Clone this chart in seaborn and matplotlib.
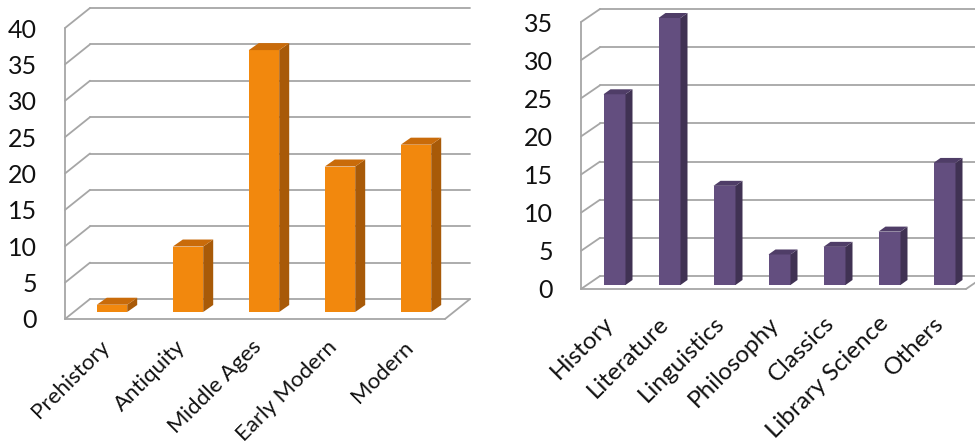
import matplotlib
matplotlib.use("Agg")
import matplotlib.pyplot as plt
import matplotlib.transforms as mtransforms
from matplotlib.patches import Polygon
from matplotlib.lines import Line2D
import seaborn as sns
import pandas as pd

# ---- data -------------------------------------------------------------
periods = ["Prehistory", "Antiquity", "Middle Ages", "Early Modern", "Modern"]
period_counts = [1, 9, 36, 20, 23]
period_ticks = [0, 5, 10, 15, 20, 25, 30, 35, 40]

fields = ["History", "Literature", "Linguistics", "Philosophy", "Classics",
          "Library Science", "Others"]
field_counts = [25, 35, 13, 4, 5, 7, 16]
field_ticks = [0, 5, 10, 15, 20, 25, 30, 35]

# ---- figure -----------------------------------------------------------
W, H, DPI = 975, 447, 100
sns.set_theme(style="white")
plt.rcParams["font.family"] = ["Lato", "DejaVu Sans"]
fig = plt.figure(figsize=(W / DPI, H / DPI), dpi=DPI)

GRID = "#a6a6a6"
TEXT = "#111111"


def px(x0, y0, x1, y1):
    """Axes rectangle from pixel box (top-left origin)."""
    return [x0 / W, 1 - y1 / H, (x1 - x0) / W, (y1 - y0) / H]


def shift(dx, dy):
    """Pixel shift in display orientation (dy positive = upwards)."""
    return mtransforms.ScaledTranslation(dx / DPI, dy / DPI, fig.dpi_scale_trans)


def pseudo3d(ax, cats, vals, ticks, front, side, top,
             wall, bar_shift, bar_depth, ymax, label_off, label_size):
    df = pd.DataFrame({"cat": cats, "val": vals})
    sns.barplot(data=df, x="cat", y="val", ax=ax, color=front,
                saturation=1, width=0.4, edgecolor="none", zorder=3)
    n = len(cats)
    ax.set_xlim(-0.5, n - 0.5)
    ax.set_ylim(0, ymax)
    for s in ax.spines.values():
        s.set_visible(False)
    ax.set_xlabel("")
    ax.set_ylabel("")
    ax.set_yticks(ticks)
    ax.tick_params(axis="y", length=0, pad=20, labelsize=18, labelcolor=TEXT)

    # category labels, rotated and tucked under each bar
    ax.set_xticks(range(n))
    ax.set_xticklabels([])
    ax.tick_params(axis="x", length=0)
    ldx, ldy = label_off
    lab_tr = mtransforms.blended_transform_factory(ax.transData, ax.transAxes) \
        + shift(ldx, ldy)
    for i, c in enumerate(cats):
        ax.text(i, 0, c, transform=lab_tr, rotation=45, rotation_mode="anchor",
                ha="right", va="center", fontsize=label_size, color=TEXT)

    wdx, wdy = wall
    back = ax.transData + shift(wdx, wdy)
    x0, x1 = ax.get_xlim()
    inv = ax.transData.inverted()
    # back wall gridlines and left wall slants
    for t in ticks:
        ax.add_line(Line2D([x0, x1], [t, t], transform=back, color=GRID,
                           lw=1.3, zorder=1, clip_on=False))
        p0 = ax.transData.transform((x0, t))
        q0, q1 = inv.transform(p0), inv.transform(p0 + [wdx, wdy])
        ax.add_line(Line2D([q0[0], q1[0]], [q0[1], q1[1]], color=GRID,
                           lw=1.3, zorder=1, clip_on=False))
    # left front edge of side wall
    ax.add_line(Line2D([x0, x0], [0, ticks[-1]], color=GRID, lw=1.3,
                       zorder=1, clip_on=False))
    # floor: front edge and right slant
    ax.add_line(Line2D([x0, x1], [0, 0], color=GRID, lw=1.3, zorder=2,
                       clip_on=False))
    pr = ax.transData.transform((x1, 0))
    qr = inv.transform(pr + [wdx, wdy])
    ax.add_line(Line2D([x1, qr[0]], [0, qr[1]], color=GRID, lw=1.3,
                       zorder=2, clip_on=False))

    # bars: move front faces onto the middle of the floor, then add
    # side and top faces
    sdx, sdy = bar_shift
    bdx, bdy = bar_depth
    for p in list(ax.patches):
        bx, bw, bh = p.get_x(), p.get_width(), p.get_height()
        p.set_transform(ax.transData + shift(sdx, sdy))
        p.set_clip_on(False)
        corners = ax.transData.transform(
            [(bx, 0), (bx + bw, 0), (bx + bw, bh), (bx, bh)])
        corners = corners + [sdx, sdy]
        bl, br, tr, tl = corners
        d = [bdx, bdy]
        side_poly = [br, br + d, tr + d, tr]
        top_poly = [tl, tr, tr + d, tl + d]
        for poly, col in ((side_poly, side), (top_poly, top)):
            ax.add_patch(Polygon(inv.transform(poly), closed=True,
                                 facecolor=col, edgecolor="none",
                                 zorder=3, clip_on=False))


# left chart: historical periods
ax1 = fig.add_axes(px(65, 28, 445, 319))
pseudo3d(ax1, periods, period_counts, period_ticks,
         front="#f2880d", side="#a85a08", top="#c96b0a",
         wall=(25, 20), bar_shift=(9, 7), bar_depth=(10, 7), ymax=40,
         label_off=(3, -25), label_size=16)

# right chart: disciplines
ax2 = fig.add_axes(px(581, 22, 966, 289))
pseudo3d(ax2, fields, field_counts, field_ticks,
         front="#634e7f", side="#403253", top="#4f3d67",
         wall=(19, 13), bar_shift=(6, 4), bar_depth=(7, 5), ymax=35,
         label_off=(2, -31), label_size=17.5)

fig.savefig("out.png", dpi=DPI)
